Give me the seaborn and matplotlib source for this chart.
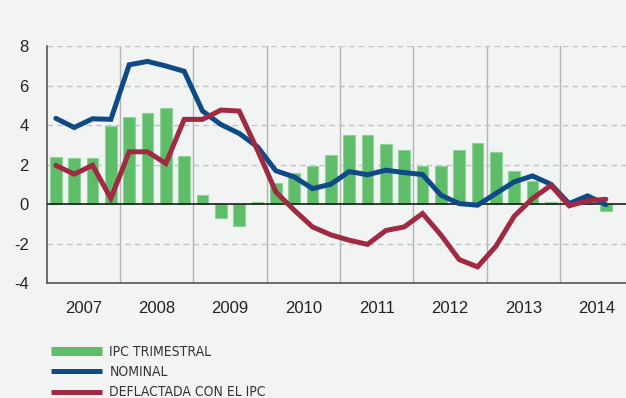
import numpy as np
import pandas as pd
import matplotlib
matplotlib.use("Agg")
import matplotlib.pyplot as plt
from matplotlib.lines import Line2D
from matplotlib import font_manager
import seaborn as sns

# Quarterly series, 2007 Q1 - 2014 Q3 (%)
years = ["2007", "2008", "2009", "2010", "2011", "2012", "2013", "2014"]
ipc_trimestral = [2.40, 2.35, 2.35, 3.97, 4.39, 4.59, 4.89, 2.45,
                  0.46, -0.71, -1.08, 0.10, 1.05, 1.59, 1.92, 2.51,
                  3.48, 3.48, 3.04, 2.75, 1.94, 1.94, 2.75, 3.07,
                  2.62, 1.70, 1.16, 0.10, 0.00, 0.00, -0.35]
nominal = [4.34, 3.88, 4.32, 4.29, 7.05, 7.22, 6.99, 6.72,
           4.71, 4.03, 3.58, 2.90, 1.69, 1.38, 0.79, 1.01,
           1.65, 1.49, 1.72, 1.60, 1.50, 0.46, 0.03, -0.05,
           0.54, 1.13, 1.43, 1.01, 0.03, 0.42, -0.02]
deflactada = [1.96, 1.52, 1.97, 0.29, 2.65, 2.65, 2.06, 4.29,
              4.29, 4.76, 4.71, 2.73, 0.62, -0.30, -1.15, -1.55,
              -1.82, -2.03, -1.33, -1.15, -0.47, -1.55, -2.80, -3.17,
              -2.13, -0.61, 0.29, 0.95, -0.08, 0.17, 0.25]
legend_labels = ["IPC TRIMESTRAL", "NOMINAL", "DEFLACTADA CON EL IPC"]
y_ticks = [-4, -2, 0, 2, 4, 6, 8]

GREEN = "#5fbd69"
GREEN_EDGE = "#8fd29a"
BLUE = "#0e4a85"
RED = "#a02a41"
BG = "#f2f4f3"


def narrow_font(size):
    """Pick a condensed sans face for the legend if one is installed."""
    for fam, stretch in [("Liberation Sans Narrow", "normal"),
                         ("DejaVu Sans Condensed", "normal"),
                         ("DejaVu Sans", "condensed")]:
        props = font_manager.FontProperties(family=fam, stretch=stretch)
        try:
            path = font_manager.findfont(props, fallback_to_default=False)
        except Exception:
            continue
        if stretch == "condensed" and "Condensed" not in path:
            continue
        return font_manager.FontProperties(fname=path, size=size)
    return font_manager.FontProperties(family="Liberation Sans", size=size - 1)


quarter = np.arange(len(ipc_trimestral))
df = pd.DataFrame({"q": quarter, "ipc": ipc_trimestral,
                   "nominal": nominal, "deflactada": deflactada})

sns.set_theme(style="white")
plt.rcParams["font.family"] = ["Liberation Sans", "DejaVu Sans"]

fig = plt.figure(figsize=(6.26, 3.98), dpi=100, facecolor=BG)
ax = fig.add_axes([46.7 / 626, 1 - 283.3 / 398, 1 - 46.7 / 626, 237.3 / 398])
ax.set_facecolor(BG)

# year separators and dashed horizontal grid
for k in range(1, len(years)):
    ax.axvline(-0.5 + 4 * k, color="#b4b4b4", lw=1.0, zorder=0)
for v in [-2, 2, 4, 6, 8]:
    ax.axhline(v, color="#c4c4c4", lw=1.0, ls=(0, (4, 3)), zorder=0)

sns.barplot(data=df, x="q", y="ipc", native_scale=True, width=0.65,
            color=GREEN, edgecolor=GREEN_EDGE, linewidth=0.8,
            saturation=1, ax=ax, zorder=2)
ax.axhline(0, color="#1a1a1a", lw=1.2, zorder=3)
sns.lineplot(data=df, x="q", y="nominal", color=BLUE, lw=3.6, ax=ax,
             zorder=4, solid_joinstyle="miter")
sns.lineplot(data=df, x="q", y="deflactada", color=RED, lw=3.6, ax=ax,
             zorder=5, solid_joinstyle="miter")

ax.set_xlim(-0.5, 31.1)
ax.set_ylim(-4, 8)
ax.set_xlabel("")
ax.set_ylabel("")

ax.set_yticks(y_ticks)
ax.set_yticklabels([str(t) for t in y_ticks])
ax.tick_params(axis="y", length=0, pad=13, labelsize=12, labelcolor="#222222")

ax.set_xticks([-0.5 + 4 * k for k in range(len(years))])
ax.set_xticklabels([])
ax.set_xticks([1.5 + 4 * k for k in range(len(years))], minor=True)
ax.set_xticklabels(years, minor=True)
ax.tick_params(axis="x", which="major", direction="in", length=3,
               color="#444444", width=1)
ax.tick_params(axis="x", which="minor", length=0, pad=13, labelsize=12,
               labelcolor="#222222")

for side in ["top", "right"]:
    ax.spines[side].set_visible(False)
for side in ["left", "bottom"]:
    ax.spines[side].set_color("#555555")
    ax.spines[side].set_linewidth(1.2)

handles = [Line2D([], [], color=GREEN, lw=6.5, solid_capstyle="butt"),
           Line2D([], [], color=BLUE, lw=3.6, solid_capstyle="butt"),
           Line2D([], [], color=RED, lw=3.6, solid_capstyle="butt")]
fig.legend(handles, legend_labels, loc="upper left",
           bbox_to_anchor=(51 / 626, 1 - 345 / 398), frameon=False,
           borderpad=0, borderaxespad=0, handlelength=3.7,
           handletextpad=0.5, labelspacing=0.45,
           prop=narrow_font(10), labelcolor="#333333")

fig.savefig("out.png", dpi=100, facecolor=BG)
